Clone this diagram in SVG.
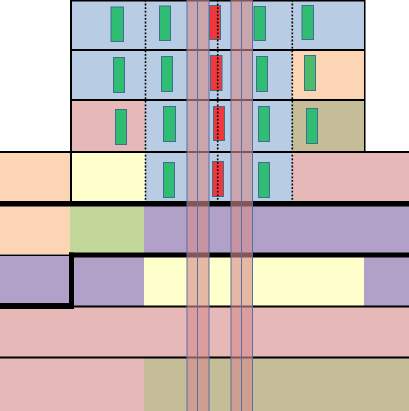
<svg xmlns="http://www.w3.org/2000/svg" width="409" height="411" viewBox="0 0 409 411">
<style>
.bl{fill:#b8cce4}.or{fill:#fcd5b4}.pk{fill:#e6b8b7}.ol{fill:#c4bd97}.ye{fill:#ffffcc}.gn{fill:#c4d79b}.pu{fill:#b1a0c7}
.seat{fill:#2ebd73;stroke:#3f6f8f;stroke-width:1}
.red{fill:#f0383c;stroke:#3f6f8f;stroke-width:1}
.strip{fill:#d48c8c;fill-opacity:0.62}
.sl{stroke:#5a6fa0;stroke-width:1}
.dot{stroke:#000;stroke-width:1.6;stroke-dasharray:1.8 1.8;fill:none}
.ln{fill:#000}
</style>
<rect width="409" height="411" fill="#fff"/>
<g id="cells">
<rect class="bl" x="71" y="0" width="74" height="50"/>
<rect class="bl" x="145" y="0" width="147" height="50"/>
<rect class="bl" x="292" y="0" width="73" height="50"/>
<rect class="bl" x="71" y="50" width="74" height="50"/>
<rect class="bl" x="145" y="50" width="147" height="50"/>
<rect class="or" x="292" y="50" width="73" height="50"/>
<rect class="pk" x="71" y="100" width="74" height="52"/>
<rect class="bl" x="145" y="100" width="147" height="52"/>
<rect class="ol" x="292" y="100" width="73" height="52"/>
<rect class="or" x="0" y="152" width="71" height="50"/>
<rect class="ye" x="71" y="152" width="74" height="50"/>
<rect class="bl" x="145" y="152" width="147" height="50"/>
<rect class="pk" x="292" y="152" width="117" height="50"/>
<rect class="or" x="0" y="205" width="70" height="49"/>
<rect class="gn" x="70" y="205" width="74" height="49"/>
<rect class="pu" x="144" y="205" width="265" height="49"/>
<rect class="pu" x="0" y="255" width="70" height="50"/>
<rect class="pu" x="74" y="256" width="70" height="50"/>
<rect class="ye" x="144" y="256" width="220" height="50"/>
<rect class="pu" x="364" y="256" width="45" height="50"/>
<rect class="pk" x="0" y="306" width="409" height="51"/>
<rect class="pk" x="0" y="357" width="144" height="54"/>
<rect class="ol" x="144" y="357" width="265" height="54"/>
</g>
<g id="seats">
<rect class="seat" x="111" y="7" width="12.5" height="34.5"/>
<rect class="seat" x="159.5" y="6" width="11" height="34.5"/>
<rect class="seat" x="254" y="6.5" width="11.5" height="34"/>
<rect class="seat" x="302" y="5.5" width="11.5" height="34"/>
<rect class="seat" x="113.5" y="57.5" width="11" height="35"/>
<rect class="seat" x="161.5" y="56.5" width="11" height="35"/>
<rect class="seat" x="256.5" y="56.5" width="11" height="35"/>
<rect class="seat" x="304.5" y="55.5" width="11" height="35" style="fill:#4cbb6c"/>
<rect class="seat" x="115.5" y="109.5" width="11" height="35"/>
<rect class="seat" x="163.5" y="106.5" width="12" height="35"/>
<rect class="seat" x="258.5" y="106.5" width="11" height="35"/>
<rect class="seat" x="306.5" y="108.5" width="11" height="35"/>
<rect class="seat" x="163.5" y="162.5" width="11" height="35"/>
<rect class="seat" x="258.5" y="162.5" width="11" height="35"/>
<rect class="red" x="209.5" y="5.5" width="11" height="34"/>
<rect class="red" x="210.5" y="55.5" width="11.5" height="35"/>
<rect class="red" x="213.5" y="106.5" width="11" height="34"/>
<rect class="red" x="212.5" y="161.5" width="11" height="35"/>
</g>
<g id="lines">
<rect class="ln" x="71" y="0" width="294" height="1.5"/>
<rect class="ln" x="70" y="0" width="2" height="202"/>
<rect class="ln" x="364" y="0" width="1.5" height="152"/>
<rect class="ln" x="71" y="49" width="294" height="2"/>
<rect class="ln" x="71" y="99" width="294" height="2"/>
<rect class="ln" x="0" y="151" width="409" height="2"/>
<rect class="ln" x="0" y="201" width="409" height="5.5"/>
<rect class="ln" x="69" y="252.5" width="340" height="5"/>
<rect class="ln" x="0" y="254.5" width="69" height="1.5"/>
<rect class="ln" x="69" y="252.5" width="5" height="56.5"/>
<rect class="ln" x="0" y="303" width="74" height="6"/>
<rect class="ln" x="74" y="305.5" width="335" height="2"/>
<rect class="ln" x="0" y="356.5" width="409" height="2"/>
<line class="dot" x1="145.5" y1="0" x2="145.5" y2="201"/>
<line class="dot" x1="217.7" y1="0" x2="217.7" y2="201"/>
<line class="dot" x1="292.3" y1="0" x2="292.3" y2="201"/>
</g>
<g id="strips">
<rect class="strip" x="187" y="0" width="22" height="411"/>
<rect class="strip" x="231" y="0" width="21.5" height="411"/>
<line class="sl" x1="187" y1="0" x2="187" y2="411"/>
<line class="sl" x1="197.5" y1="0" x2="197.5" y2="411"/>
<line class="sl" x1="209" y1="0" x2="209" y2="411"/>
<line class="sl" x1="231" y1="0" x2="231" y2="411"/>
<line class="sl" x1="241.5" y1="0" x2="241.5" y2="411"/>
<line class="sl" x1="252.5" y1="0" x2="252.5" y2="411"/>
</g>
</svg>
